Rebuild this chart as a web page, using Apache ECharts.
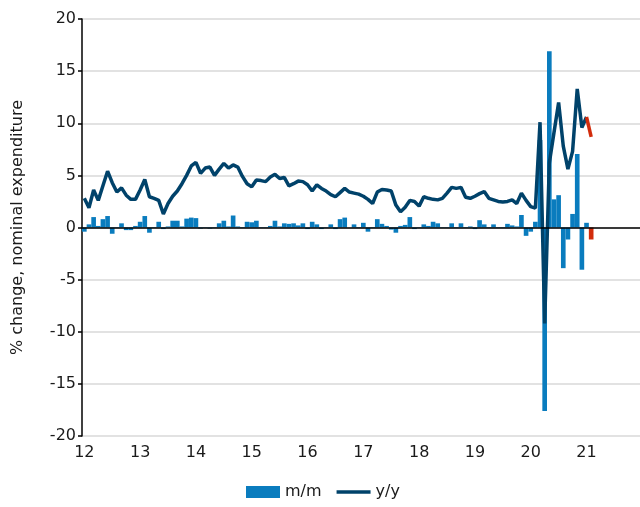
<!DOCTYPE html>
<html>
<head>
<meta charset="utf-8">
<script src="https://cdn.jsdelivr.net/npm/echarts@6/dist/echarts.min.js"></script>
<style>
html,body{margin:0;padding:0;background:#fff;}
#chart{width:640px;height:507px;}
</style>
</head>
<body>
<div id="chart"></div>
<script>
// Tick labels (years) and monthly categories
const years = ['12','13','14','15','16','17','18','19','20','21'];
const months = ['01','02','03','04','05','06','07','08','09','10','11','12'];

// m/m % change (Jan 2012 - Feb 2021)
const mm = [
  -0.4, 0.3, 1.0, 0.15, 0.8, 1.1, -0.6, 0.05, 0.4, -0.25, -0.25, 0.15,
  0.55, 1.1, -0.5, 0.05, 0.55, -0.15, 0.1, 0.65, 0.65, 0.1, 0.85, 0.95,
  0.9, -0.1, 0.05, -0.1, -0.05, 0.4, 0.65, 0.1, 1.15, 0.1, 0.05, 0.55,
  0.5, 0.65, 0.05, 0.05, 0.15, 0.65, 0.1, 0.4, 0.35, 0.4, 0.2, 0.4,
  -0.15, 0.55, 0.3, -0.15, 0.05, 0.3, -0.15, 0.8, 0.95, 0.0, 0.3, 0.05,
  0.45, -0.4, 0.05, 0.8, 0.35, 0.15, -0.2, -0.5, 0.15, 0.25, 1.0, -0.15,
  0.05, 0.3, 0.15, 0.55, 0.4, 0.05, -0.05, 0.4, 0.05, 0.4, -0.05, 0.1,
  -0.15, 0.7, 0.3, 0.05, 0.3, -0.05, 0.05, 0.35, 0.2, 0.1, 1.2, -0.8,
  -0.4, 0.55, 8.4, -17.6, 16.9, 2.7, 3.1, -3.9, -1.15, 1.3, 7.05, -4.05,
  0.45, -1.15
];

// y/y % change (Jan 2012 - Feb 2021)
const yy = [
  2.8, 1.9, 3.6, 2.6, 4.0, 5.4, 4.3, 3.4, 3.8, 3.1, 2.7, 2.7,
  3.6, 4.6, 2.95, 2.8, 2.6, 1.3, 2.3, 3.0, 3.5, 4.2, 5.0, 5.9,
  6.25, 5.2, 5.7, 5.8, 5.0, 5.6, 6.15, 5.7, 6.0, 5.8, 4.9, 4.2,
  3.9, 4.55, 4.5, 4.4, 4.85, 5.1, 4.7, 4.8, 4.0, 4.2, 4.45, 4.4,
  4.1, 3.5, 4.1, 3.75, 3.5, 3.15, 2.95, 3.35, 3.75, 3.4, 3.3, 3.2,
  3.0, 2.7, 2.3, 3.4, 3.65, 3.6, 3.5, 2.15, 1.5, 1.95, 2.6, 2.5,
  2.05, 2.95, 2.8, 2.7, 2.65, 2.8, 3.3, 3.85, 3.75, 3.85, 2.9, 2.8,
  3.0, 3.25, 3.45, 2.8, 2.65, 2.5, 2.45, 2.5, 2.65, 2.3, 3.3, 2.6,
  2.0, 1.85, 10.1, -9.2, 6.2, 9.1, 12.0, 7.8, 5.6, 7.3, 13.3, 9.6,
  10.6, 8.7
];

const highlightFrom = 108; // last (red) segment starts at Jan 2021

const categories = [];
years.forEach(y => months.forEach(m => categories.push(y + '-' + m)));

const BLUE = '#0a7cbe', NAVY = '#00426a', RED = '#d22c0c';
const FONT = 'DejaVu Sans';

const barData = mm.map((v, i) => i === mm.length - 1
  ? { value: v, itemStyle: { color: RED } } : v);
const lineMain = yy.slice(0, highlightFrom + 1);
const lineRed = yy.map((v, i) => i >= highlightFrom ? v : null);

const chart = echarts.init(document.getElementById('chart'));
chart.setOption({
  animation: false,
  textStyle: { fontFamily: FONT },
  grid: { left: 82, right: 0, top: 19, bottom: 71 },
  legend: {
    bottom: 2,
    left: 241,
    itemWidth: 34,
    itemHeight: 12,
    itemGap: 15,
    symbolKeepAspect: true,
    textStyle: { fontFamily: FONT, fontSize: 16, color: '#1a1a1a' },
    data: [
      { name: 'm/m', icon: 'rect' },
      { name: 'y/y', icon: 'path://M0,0 L34,0 L34,3.5 L0,3.5 Z', itemStyle: { color: NAVY } }
    ]
  },
  xAxis: {
    type: 'category',
    data: categories,
    boundaryGap: true,
    position: 'bottom',
    axisLine: { show: false, onZero: false },
    axisTick: { show: false },
    splitLine: { show: false },
    axisLabel: {
      interval: (i) => i % 12 === 0,
      formatter: (v) => v.slice(0, 2),
      fontFamily: FONT, fontSize: 16, color: '#1a1a1a', margin: 9
    }
  },
  yAxis: {
    type: 'value',
    min: -20, max: 20, interval: 5,
    name: '% change, nominal expenditure',
    nameLocation: 'middle',
    nameGap: 56,
    nameTextStyle: { fontFamily: FONT, fontSize: 16, color: '#1a1a1a' },
    axisLine: { show: true, lineStyle: { color: '#000', width: 1.5 } },
    axisTick: { show: true, length: 4, lineStyle: { color: '#000', width: 1.5 } },
    axisLabel: { fontFamily: FONT, fontSize: 16, color: '#1a1a1a', margin: 6 },
    splitLine: { show: true, lineStyle: { color: '#d9d9d9', width: 1.5 } }
  },
  series: [
    {
      name: 'm/m',
      type: 'bar',
      data: barData,
      barCategoryGap: '0%',
      itemStyle: { color: BLUE },
      markLine: {
        silent: true,
        symbol: 'none',
        label: { show: false },
        lineStyle: { color: '#000', width: 1.5, type: 'solid' },
        data: [{ yAxis: 0 }]
      }
    },
    {
      name: 'y/y',
      type: 'line',
      data: lineMain,
      symbol: 'none',
      lineStyle: { color: NAVY, width: 3.5 },
      itemStyle: { color: NAVY },
      z: 3
    },
    {
      name: 'y/y recent',
      type: 'line',
      data: lineRed,
      symbol: 'none',
      connectNulls: false,
      lineStyle: { color: RED, width: 3.5 },
      itemStyle: { color: RED },
      z: 4
    }
  ]
});
</script>
</body>
</html>
